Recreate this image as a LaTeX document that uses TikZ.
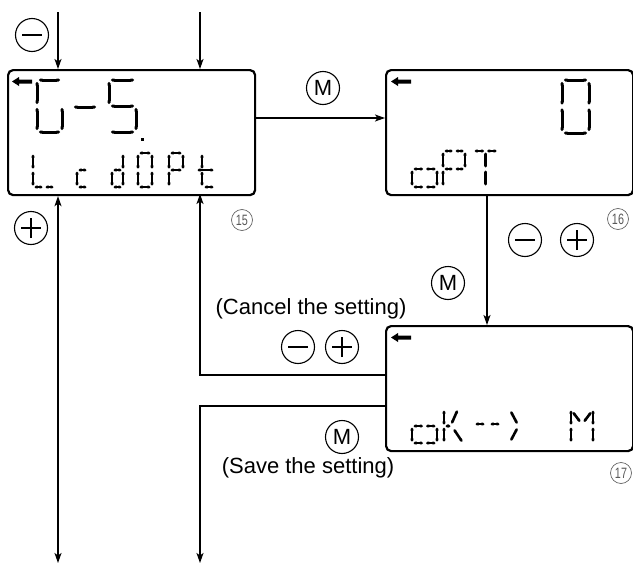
\documentclass[tikz,border=0pt]{standalone}
\usepackage{fontspec}
\setmainfont{Liberation Sans}
\usepackage{graphicx}
\usetikzlibrary{arrows.meta}
\begin{document}
\begin{tikzpicture}[x=1pt,y=-1pt,
  lcd/.style={draw, line width=2.2pt, rounded corners=5pt, minimum width=247pt, minimum height=125pt, anchor=north west, inner sep=0pt},
  conn/.style={line width=1.3pt, -{Stealth[length=10pt,width=7pt,inset=2.5pt]}},
  conn2/.style={line width=1.3pt, {Stealth[length=10pt,width=7pt,inset=2.5pt]}-{Stealth[length=10pt,width=7pt,inset=2.5pt]}},
  key/.style={circle, draw, line width=1.1pt, minimum size=33pt, inner sep=0pt},
  minuskey/.style={key, path picture={\draw[line width=1.1pt] ([xshift=-10pt]path picture bounding box.center) -- ([xshift=10pt]path picture bounding box.center);}},
  pluskey/.style={key, path picture={\draw[line width=1.1pt] ([xshift=-10pt]path picture bounding box.center) -- ([xshift=10pt]path picture bounding box.center) ([yshift=-10pt]path picture bounding box.center) -- ([yshift=10pt]path picture bounding box.center);}},
  mkey/.style={key, font=\fontsize{22}{22}\selectfont},
  num/.style={circle, draw=black!60, line width=0.7pt, inner sep=0pt, minimum size=21pt, text=black!65, font=\fontsize{15}{15}\selectfont},
  note/.style={font=\fontsize{22}{26}\selectfont, inner sep=0pt},
  sgb/.style={line width=3pt, {Triangle Cap}-{Triangle Cap}, shorten <=1.8pt, shorten >=1.8pt},
  sgs/.style={line width=2.6pt, {Triangle Cap}-{Triangle Cap}, shorten <=1.5pt, shorten >=1.5pt},
  lcdarrow/.pic={\fill (0,0) -- (7,-4.5) -- (7,-2) -- (20,-2) -- (20,2) -- (7,2) -- (7,4.5) -- cycle;}
]
\useasboundingbox (0,0) rectangle (633,565);

% display boxes
\node[lcd] (b1) at (7,69) {};
\node[lcd] (b2) at (385,69) {};
\node[lcd] (b3) at (385,325) {};

% indicator arrows
\pic at (12,81.5) {lcdarrow};
\pic at (391,81.5) {lcdarrow};
\pic at (391,337.5) {lcdarrow};

% big segments
\foreach \xa/\ya/\xb/\yb in {
  37/80/62/80, 37/80/37/106, 37/106/37/132, 37/132/62/132, 62/106/62/132,
  72/107/98/107,
  109/80/136/80, 109/80/109/106, 109/106/136/106, 136/106/136/132, 109/132/136/132,
  562/80/589/80, 562/80/562/106.5, 562/106.5/562/133, 562/133/589/133, 589/80/589/106.5, 589/106.5/589/133}
  \draw[sgb] (\xa,\ya) -- (\xb,\yb);
\fill (140.5,137.5) rectangle (143.5,140.5);

% small segments
\foreach \xa/\ya/\xb/\yb in {
  33/153/33/170, 33/170/33/187, 33/187/44/187, 44/187/55/187,
  77/170/88/170, 77/170/77/187, 77/187/88/187,
  123/153/123/170, 123/170/123/187, 112/170/112/187, 112/170/123/170, 112/187/123/187,
  138/153/152/153, 138/153/138/170, 138/170/138/187, 138/187/152/187, 152/153/152/170, 152/170/152/187,
  169/153/183/153, 169/153/169/170, 169/170/169/187, 183/153/183/170, 169/170/183/170,
  202/153/202/170, 202/170/202/187, 196/170/215/170, 203/187/215/187,
  412/169/424.5/169, 424.5/169/437/169, 412/169/412/187, 437/169/437/187, 412/187/424.5/187, 424.5/187/437/187,
  443/151/454/151, 454/151/465/151, 443/151/443/169, 443/169/443/187, 465/151/465/169, 443/169/454/169, 454/169/465/169,
  473/151/485.5/151, 485.5/151/498/151, 485.5/151/485.5/169, 485.5/169/485.5/187,
  412/426/424.5/426, 424.5/426/437/426, 412/426/412/443, 437/426/437/443, 412/443/424.5/443, 424.5/443/437/443,
  444/409/444/426, 444/426/444/443, 444/426/452/426, 451/425/458/409, 453/428/463/443,
  474/424/486/424, 489/424/501/424,
  510/410/518/425, 518/427/510/442,
  571/409/571/426, 571/426/571/443, 593/409/593/426, 593/426/593/443, 572/411/581/423, 592/411/583/423}
  \draw[sgs] (\xa,\ya) -- (\xb,\yb);

% keys
\node[minuskey] (k1) at (32,35) {};
\node[pluskey] (k2) at (31,228) {};
\node[mkey] (k3) at (323,88) {M};
\node[minuskey] (k4) at (525,240) {};
\node[pluskey] (k5) at (577,240) {};
\node[mkey] (k6) at (448,283) {M};
\node[minuskey] (k7) at (298,347) {};
\node[pluskey] (k8) at (342,347) {};
\node[mkey] (k9) at (342,437) {M};

% step numbers
\node[num] (n15) at (242,220) {\scalebox{0.72}[1]{15}};
\node[num] (n16) at (618,219) {\scalebox{0.72}[1]{16}};
\node[num] (n17) at (621,473) {\scalebox{0.72}[1]{17}};

% notes
\node[note] (cancel) at (311,309) {(Cancel the setting)};
\node[note] (save) at (308,468) {(Save the setting)};

% connectors
\coordinate (t1) at (58,12);
\coordinate (t2) at (200,12);
\draw[conn] (t1) -- (t1 |- b1.north);
\draw[conn] (t2) -- (t2 |- b1.north);
\coordinate (r1) at (255,118);
\draw[conn] (r1) -- (r1 -| b2.west);
\coordinate (d2) at (487,194);
\draw[conn] (d2) -- (d2 |- b3.north);
\coordinate (lb) at (58,563);
\draw[conn2] (lb) -- (lb |- b1.south);
\coordinate (ca) at (385,375);
\coordinate (cb) at (200,194);
\draw[conn] (ca) -| (cb);
\coordinate (sa) at (385,406);
\coordinate (sb) at (200,563);
\draw[conn] (sa) -| (sb);
\end{tikzpicture}
\end{document}
